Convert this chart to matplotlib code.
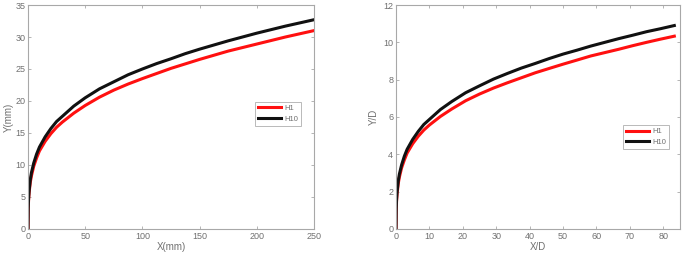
import matplotlib
matplotlib.use("Agg")
import matplotlib.pyplot as plt

plt.rcParams['font.family'] = ['Liberation Sans', 'DejaVu Sans']

# Left panel: dimensional trajectory
x_mm = [0, 0.2, 0.5, 1, 2, 3, 5, 7.5, 10, 15, 20, 25, 30, 40, 50, 62.5, 75, 87.5, 100,
        112.5, 125, 137.5, 150, 162.5, 175, 187.5, 200, 212.5, 225, 237.5, 250]
y_h1_mm = [0, 3.1, 4.5, 5.7, 7.3, 8.3, 9.8, 11.1, 12.2, 13.7, 14.9, 15.9, 16.7, 18.1, 19.3, 20.6, 21.7, 22.65, 23.5,
           24.3, 25.1, 25.8, 26.5, 27.15, 27.8, 28.35, 28.9, 29.45, 30.0, 30.5, 31.0]
y_h10_mm = [0, 3.3, 4.8, 6.0, 7.7, 8.8, 10.3, 11.7, 12.8, 14.4, 15.7, 16.8, 17.6, 19.2, 20.5, 21.9, 23.0, 24.1, 25.0,
            25.85, 26.6, 27.4, 28.1, 28.75, 29.4, 30.0, 30.6, 31.15, 31.7, 32.2, 32.7]

# Right panel: non-dimensional trajectory
x_d = [0, 0.07, 0.17, 0.33, 0.67, 1, 1.67, 2.5, 3.33, 5, 6.67, 8.33, 10, 13.3, 16.7, 20.83, 25, 29.17, 33.3,
       37.5, 41.7, 45.83, 50, 54.17, 58.3, 62.5, 66.7, 70.83, 75, 79.17, 83.3]
y_h1_d = [0, 1.03, 1.5, 1.9, 2.43, 2.77, 3.27, 3.7, 4.07, 4.57, 4.97, 5.3, 5.57, 6.03, 6.43, 6.87, 7.23, 7.55, 7.83,
          8.1, 8.37, 8.6, 8.83, 9.05, 9.27, 9.45, 9.63, 9.82, 10.0, 10.17, 10.33]
y_h10_d = [0, 1.1, 1.6, 2.0, 2.57, 2.93, 3.43, 3.9, 4.27, 4.8, 5.23, 5.6, 5.87, 6.4, 6.83, 7.3, 7.67, 8.03, 8.33,
           8.62, 8.87, 9.13, 9.37, 9.58, 9.8, 10.0, 10.2, 10.38, 10.57, 10.73, 10.9]

labels = ["H1", "H10"]
colors = ["#ff1010", "#111111"]

text_c = "#707070"
spine_c = "#a8a8a8"

fig = plt.figure(figsize=(6.85, 2.59), dpi=100)
ax1 = fig.add_axes([28/685, 30/259, 286/685, 224/259])
ax2 = fig.add_axes([396/685, 30/259, 284/685, 224/259])

def style(ax):
    for s in ax.spines.values():
        s.set_color(spine_c)
        s.set_linewidth(0.8)
    ax.tick_params(direction='in', top=True, right=True, length=2.5, width=0.6,
                   colors=spine_c, labelcolor=text_c, labelsize=6.5, pad=2)

ax1.plot(x_mm, y_h1_mm, color=colors[0], lw=2.2, label=labels[0])
ax1.plot(x_mm, y_h10_mm, color=colors[1], lw=2.2, label=labels[1])
ax1.set_xlim(0, 250)
ax1.set_ylim(0, 35)
ax1.set_xticks([0, 50, 100, 150, 200, 250])
ax1.set_yticks([0, 5, 10, 15, 20, 25, 30, 35])
ax1.set_xlabel("X(mm)", fontsize=7, color=text_c, labelpad=1)
ax1.set_ylabel("Y(mm)", fontsize=7, color=text_c, labelpad=1)
style(ax1)
leg1 = ax1.legend(loc='upper left', bbox_to_anchor=(0.794, 0.568), fontsize=5.5,
                  frameon=True, fancybox=False, handlelength=3.0, borderpad=0.4,
                  labelspacing=0.4, handletextpad=0.4, borderaxespad=0)
leg1.get_frame().set_edgecolor(spine_c)
leg1.get_frame().set_linewidth(0.7)
for t in leg1.get_texts():
    t.set_color(text_c)

ax2.plot(x_d, y_h1_d, color=colors[0], lw=2.2, label=labels[0])
ax2.plot(x_d, y_h10_d, color=colors[1], lw=2.2, label=labels[1])
ax2.set_xlim(0, 85)
ax2.set_ylim(0, 12)
ax2.set_xticks([0, 10, 20, 30, 40, 50, 60, 70, 80])
ax2.set_yticks([0, 2, 4, 6, 8, 10, 12])
ax2.set_xlabel("X/D", fontsize=7, color=text_c, labelpad=1)
ax2.set_ylabel("Y/D", fontsize=7, color=text_c, labelpad=3)
style(ax2)
leg2 = ax2.legend(loc='upper left', bbox_to_anchor=(0.80, 0.464), fontsize=5.5,
                  frameon=True, fancybox=False, handlelength=3.0, borderpad=0.4,
                  labelspacing=0.4, handletextpad=0.4, borderaxespad=0)
leg2.get_frame().set_edgecolor(spine_c)
leg2.get_frame().set_linewidth(0.7)
for t in leg2.get_texts():
    t.set_color(text_c)

fig.savefig("out.png", dpi=100)
